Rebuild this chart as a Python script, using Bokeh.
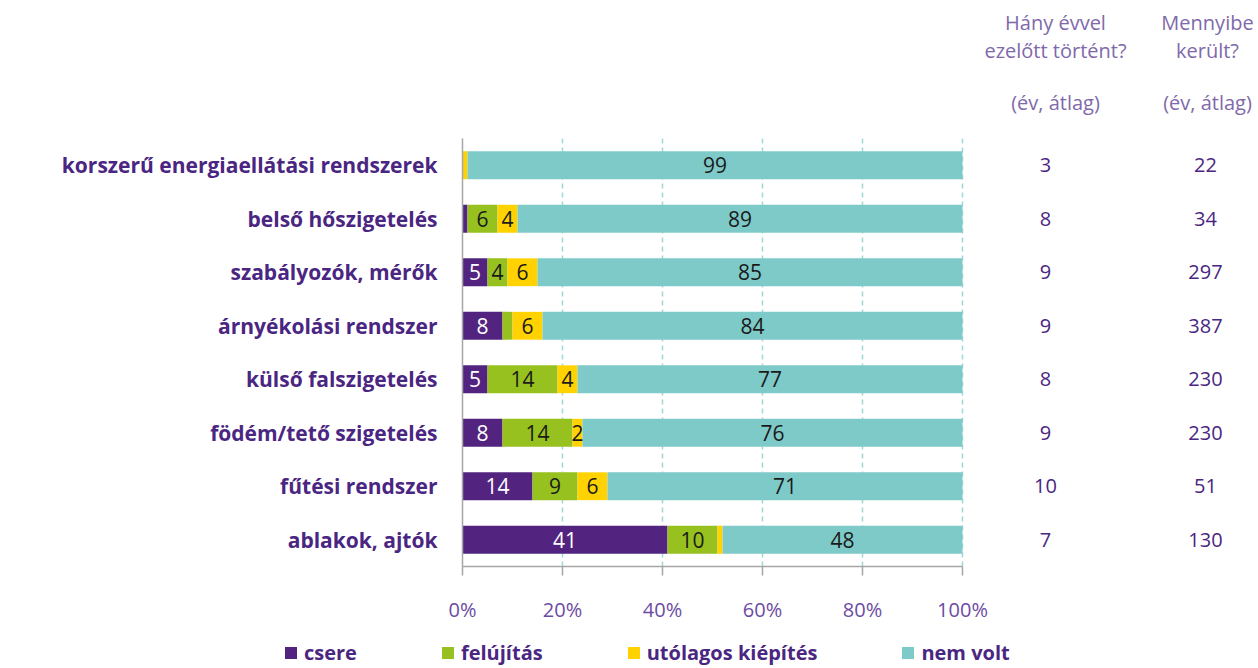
import numpy as np
from bokeh.plotting import figure
from bokeh.layouts import column, row
from bokeh.models import (ColumnDataSource, Label, Legend, LegendItem,
                          FactorRange, FixedTicker, CustomJSTickFormatter, Range1d)
from bokeh.core.properties import value
from bokeh.embed import file_html
from bokeh.resources import INLINE

categories = ["korszerű energiaellátási rendszerek", "belső hőszigetelés",
              "szabályozók, mérők", "árnyékolási rendszer", "külső falszigetelés",
              "födém/tető szigetelés", "fűtési rendszer", "ablakok, ajtók"]
series = ["csere", "felújítás", "utólagos kiépítés", "nem volt"]
csere = [0, 1, 5, 8, 5, 8, 14, 41]
felujitas = [0, 6, 4, 2, 14, 14, 9, 10]
utolagos = [1, 4, 6, 6, 4, 2, 6, 1]
nem_volt = [99, 89, 85, 84, 77, 76, 71, 48]
csere_lbl = ["", "", "5", "8", "5", "8", "14", "41"]
felujitas_lbl = ["", "6", "4", "", "14", "14", "9", "10"]
utolagos_lbl = ["", "4", "6", "6", "4", "2", "6", ""]
nem_volt_lbl = [str(v) for v in nem_volt]
evek = [3, 8, 9, 9, 8, 9, 10, 7]
koltseg = [22, 34, 297, 387, 230, 230, 51, 130]
x_ticks = [0, 20, 40, 60, 80, 100]
header_left = ["Hány évvel", "ezelőtt történt?", "(év, átlag)"]
header_right = ["Mennyibe", "került?", "(év, átlag)"]

colors = ["#52247f", "#97c11f", "#ffd200", "#7ecac8"]
label_colors = ["white", "#1a1a1a", "#1a1a1a", "#1a1a1a"]
dark_purple = "#4a2682"
mid_purple = "#6c4ba3"
light_purple = "#8069aa"
FONT = "Open Sans"

W = 1256
LEFT = 462
TOP = 138
MAIN_H = 487
LEG_H = 41
x_range = Range1d(0, (W - LEFT) / 5)   # 100% == 500 px

keys = ["s0", "s1", "s2", "s3"]
vals = [csere, felujitas, utolagos, nem_volt]
lbls = [csere_lbl, felujitas_lbl, utolagos_lbl, nem_volt_lbl]
data = dict(cat=categories)
for k, v in zip(keys, vals):
    data[k] = v
source = ColumnDataSource(data)

# ---------------- header figure ----------------
ph = figure(width=W, height=TOP, output_backend="svg", toolbar_location=None,
            x_range=x_range, y_range=Range1d(TOP, 0), title=None,
            x_axis_location=None, y_axis_location=None,
            min_border_left=LEFT, min_border_right=0, min_border_top=0,
            min_border_bottom=0)
ph.outline_line_color = None
ph.grid.visible = False
for hx, lines in zip([118.6, 149.0], [header_left, header_right]):
    for hy, t in zip([22, 50, 102], lines):
        ph.add_layout(Label(x=hx, y=hy, text=t, text_align="center",
                            text_baseline="middle", text_font=FONT,
                            text_font_size="20px", text_color=light_purple))

# ---------------- main figure ----------------
p = figure(width=W, height=MAIN_H, output_backend="svg", toolbar_location=None,
           y_range=FactorRange(factors=categories[::-1], range_padding=0),
           x_range=x_range, title=None, min_border_left=LEFT, min_border_right=0,
           min_border_top=0, min_border_bottom=58)
p.outline_line_color = None

renderers = p.hbar_stack(keys, y="cat", height=0.52, color=colors, source=source,
                         line_color=None)

cum = np.zeros(len(categories))
for i, (v, lb) in enumerate(zip(vals, lbls)):
    v = np.array(v, dtype=float)
    centers = cum + v / 2
    cum = cum + v
    src = ColumnDataSource(dict(x=centers, y=categories, t=lb))
    p.text(x="x", y="y", text="t", source=src, text_align="center",
           text_baseline="middle", text_font=value(FONT), text_font_size="21px",
           text_color=label_colors[i])

for xpos, col in zip([116.6, 148.6], [evek, koltseg]):
    src = ColumnDataSource(dict(x=[xpos] * len(categories), y=categories,
                                t=[str(c) for c in col]))
    p.text(x="x", y="y", text="t", source=src, text_align="center",
           text_baseline="middle", text_font=value(FONT), text_font_size="20px",
           text_color=dark_purple)

p.xaxis.bounds = (0, 100)
p.xaxis.ticker = FixedTicker(ticks=x_ticks)
p.xaxis.formatter = CustomJSTickFormatter(code="return tick + '%';")
p.xaxis.major_label_text_font = FONT
p.xaxis.major_label_text_font_size = "20px"
p.xaxis.major_label_text_color = mid_purple
p.xaxis.major_label_standoff = 20
p.xaxis.major_tick_out = 9
p.xaxis.major_tick_in = 0
p.xaxis.major_tick_line_color = "#a6a6a6"
p.xaxis.major_tick_line_width = 1.5
p.xaxis.minor_tick_line_color = None
p.xaxis.axis_line_color = "#a6a6a6"
p.xaxis.axis_line_width = 1.5

p.yaxis.major_label_text_font = FONT
p.yaxis.major_label_text_font_size = "21px"
p.yaxis.major_label_text_font_style = "bold"
p.yaxis.major_label_text_color = dark_purple
p.yaxis.major_label_standoff = 25
p.yaxis.major_tick_out = 0
p.yaxis.major_tick_in = 0
p.yaxis.major_tick_line_color = None
p.yaxis.axis_line_color = "#a6a6a6"
p.yaxis.axis_line_width = 1.5

p.ygrid.grid_line_color = None
p.xgrid.ticker = FixedTicker(ticks=[20, 40, 60, 80, 100])
p.xgrid.grid_line_color = "#9fd6d6"
p.xgrid.grid_line_dash = "5 4"
p.xgrid.grid_line_width = 1.5

# ---------------- legend figure ----------------
pl = figure(width=W, height=LEG_H, output_backend="svg", toolbar_location=None,
            title=None, x_axis_location=None, y_axis_location=None,
            x_range=Range1d(0, 100), y_range=FactorRange(factors=categories),
            min_border_left=0, min_border_right=0, min_border_top=0,
            min_border_bottom=0)
pl.outline_line_color = None
pl.grid.visible = False
leg_renderers = pl.hbar_stack(keys, y="cat", height=0.5, color=colors,
                              source=source, line_color=None)
for r in leg_renderers:
    r.visible = False
items = [LegendItem(label=name, renderers=[r]) for name, r in zip(series, leg_renderers)]
leg = Legend(items=items, location=(283, 0), orientation="horizontal",
             padding=0, margin=0, spacing=83, border_line_color=None,
             background_fill_alpha=0, glyph_width=15, glyph_height=15,
             label_standoff=6, label_width=0, label_height=20,
             inactive_fill_alpha=0, click_policy="none",
             label_text_font=FONT, label_text_font_size="20px",
             label_text_font_style="bold", label_text_color=dark_purple)
pl.add_layout(leg, "center")

layout = column(ph, p, row(pl, spacing=0), spacing=0)
open("out.html", "w").write(file_html(layout, INLINE))
